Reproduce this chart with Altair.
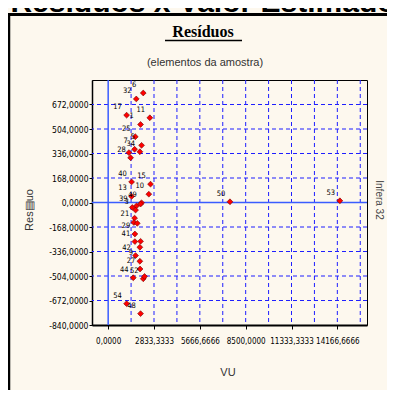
import altair as alt
import pandas as pd

# ---- data ----
vu = [2168, 1737, 1140, 2575, 2002, 1676, 2064, 1632, 1959, 1281, 1386, 1448, 2618, 2513,
      1448, 2064, 1491, 1756, 1694, 2002, 1632, 1589, 1799, 1651, 1651, 2002, 1959, 1694,
      1959, 1971, 1552, 2168, 2248, 1140, 2002, 7528, 14322]
residuo = [751, 710, 599, 581, 535, 451, 392, 365, 348, 342, 307, 141, 126, 57,
           42, -2, -34, -23, -52, -11, -107, -137, -143, -216, -268, -266, -307, -364,
           -403, -456, -516, -523, -507, -694, -762, 5, 12]
rotulos = ["6", "32", "17", "11", "1", "25", "5", "7", "34", "", "28", "40", "15", "10",
           "13", "49", "39", "", "3", "", "", "21", "", "29", "41", "", "", "42",
           "9", "27", "44", "52", "", "54", "48", "50", "53"]

x_ticks = [0, 8500 / 3, 17000 / 3, 8500, 34000 / 3, 42500 / 3]
x_tick_labels = ["0,0000", "2833,3333", "5666,6666", "8500,0000", "11333,3333", "14166,6666"]
y_ticks = [672, 504, 336, 168, 0, -168, -336, -504, -672, -840]
y_tick_labels = ["672,0000", "504,0000", "336,0000", "168,0000", "0,0000", "-168,0000",
                 "-336,0000", "-504,0000", "-672,0000", "-840,0000"]
x_grid = [k * 8500 / 6 for k in range(1, 12)]
y_grid = [672, 504, 336, 168, -168, -336, -504, -672]

df = pd.DataFrame({"vu": vu, "res": residuo, "lab": rotulos})

W, H = 275, 245
TF = "'Liberation Sans Narrow', 'DejaVu Sans Condensed', sans-serif"
BLUE_GRID = "#1f1fff"
BLUE_ZERO = "#3a5cff"


def chain(vals, labs):
    expr = "''"
    for v, l in reversed(list(zip(vals, labs))):
        expr = f"abs(datum.value - ({v})) < 0.5 ? '{l}' : ({expr})"
    return expr


xs = alt.Scale(domain=[-1000, 16000], nice=False, zero=False)
ys = alt.Scale(domain=[-840, 840], nice=False, zero=False)
xaxis = alt.Axis(values=x_ticks, labelExpr=chain(x_ticks, x_tick_labels), title=None, grid=False,
                 tickSize=4, tickColor="black", domainColor="black", domainWidth=2,
                 labelFont=TF, labelFontSize=8, labelColor="black", labelPadding=8,
                 labelFlush=False, labelOverlap=False)
yaxis = alt.Axis(values=y_ticks, labelExpr=chain(y_ticks, y_tick_labels), title=None, grid=False,
                 tickSize=3, tickColor="black", domainColor="black", domainWidth=1.5,
                 labelFont=TF, labelFontSize=8.5, labelColor="black", labelPadding=1,
                 labelOverlap=False)

xgrid = alt.Chart(pd.DataFrame({"gx": x_grid})).mark_rule(
    color=BLUE_GRID, strokeDash=[4, 3], strokeWidth=1).encode(
    x=alt.X("gx:Q", scale=xs, axis=xaxis))
ygrid = alt.Chart(pd.DataFrame({"gy": y_grid})).mark_rule(
    color=BLUE_GRID, strokeDash=[4, 3], strokeWidth=1).encode(
    y=alt.Y("gy:Q", scale=ys, axis=yaxis))
zx = alt.Chart(pd.DataFrame({"z": [0]})).mark_rule(color=BLUE_ZERO, strokeWidth=1.5).encode(
    x=alt.X("z:Q", scale=xs, axis=xaxis))
zy = alt.Chart(pd.DataFrame({"z": [0]})).mark_rule(color=BLUE_ZERO, strokeWidth=1.5).encode(
    y=alt.Y("z:Q", scale=ys, axis=yaxis))

base = alt.Chart(df).encode(
    x=alt.X("vu:Q", scale=xs, axis=xaxis),
    y=alt.Y("res:Q", scale=ys, axis=yaxis),
)
pts = base.mark_point(shape="diamond", filled=True, fill="#ff0000", stroke="#700000",
                      strokeWidth=0.6, size=34, opacity=1)
labs = base.mark_text(font=TF, fontSize=7.5, color="black", dx=-9, dy=-8).encode(text="lab:N")


def txt(s, x, y, **kw):
    return alt.Chart(pd.DataFrame({"t": [s]})).mark_text(**kw).encode(
        x=alt.value(x), y=alt.value(y), text="t:N")


def rule(x, y, x2=None, y2=None, **kw):
    enc = dict(x=alt.value(x), y=alt.value(y))
    if x2 is not None:
        enc["x2"] = alt.value(x2)
    if y2 is not None:
        enc["y2"] = alt.value(y2)
    return alt.Chart(pd.DataFrame({"t": [0]})).mark_rule(**kw).encode(**enc)


title = txt("Resíduos", 111, -48, font="Liberation Serif", fontSize=16, fontWeight="bold",
            color="black", align="center", baseline="middle")
underline = rule(73, -39.5, x2=150, y2=-39.5, color="black", strokeWidth=1.5)
subtitle = txt("(elementos da amostra)", 113, -17, font="Liberation Sans", fontSize=11,
               color="#333333", align="center", baseline="middle")
ytitle = txt("Res▤uo", -62, 130, font="Liberation Sans", fontSize=11, color="#333333",
             angle=270, align="center", baseline="middle")
xtitle = txt("VU", 136, 293, font="Liberation Sans", fontSize=11, color="#333333",
             align="center", baseline="middle")
side = txt("Infera 32", 287, 120, font="Liberation Sans", fontSize=10, color="#444444",
           angle=90, align="center", baseline="middle")
big = txt("Resíduos x Valor Estimado", 111, -68, font="Liberation Sans", fontSize=30,
          fontWeight="bold", color="black", align="center", baseline="alphabetic")
topbar = rule(-84, -65.5, x2=295, y2=-65.5, color="black", strokeWidth=3)
leftbar = rule(-83, -64, x2=-83, y2=310, color="black", strokeWidth=2.5)

chart = alt.layer(
    xgrid, ygrid, zx, zy, pts, labs,
    big, topbar, leftbar, title, underline, subtitle, ytitle, xtitle, side,
).properties(
    width=W, height=H,
    autosize=alt.AutoSizeParams(type="none"),
    padding={"left": 84, "top": 72, "right": 20, "bottom": 65},
    background="#fdf8ee",
).configure_view(stroke="black", strokeWidth=1)

chart.save("out.html", embed_options={"renderer": "svg", "actions": False})
